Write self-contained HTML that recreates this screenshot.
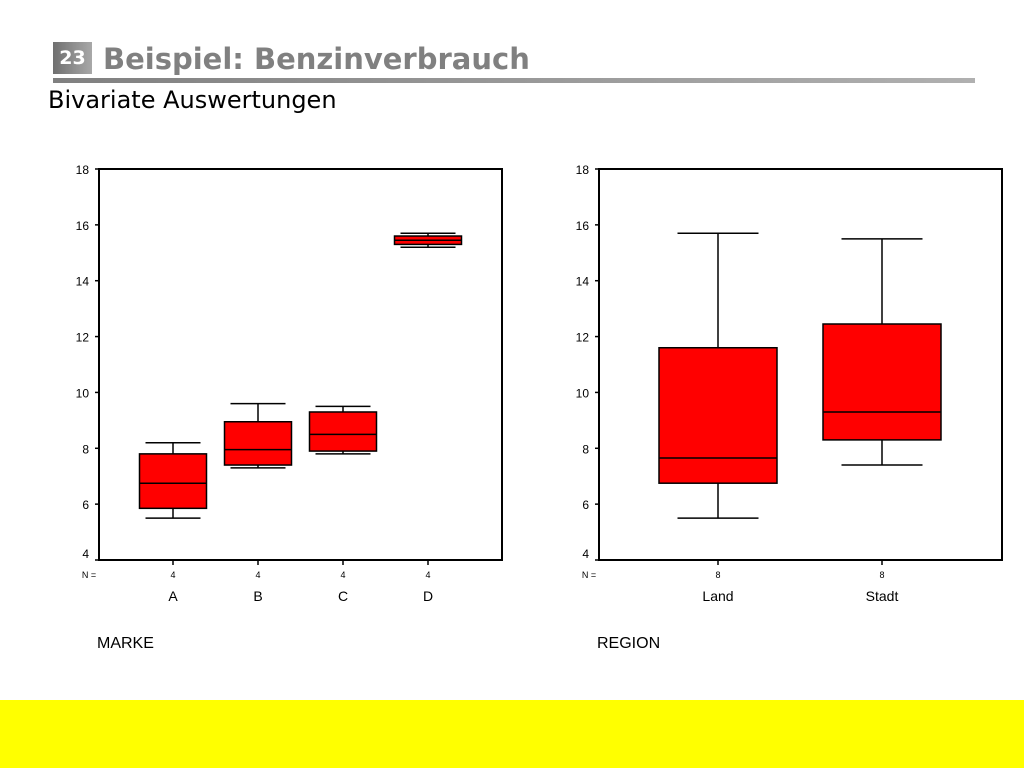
<!DOCTYPE html>
<html><head><meta charset="utf-8"><style>
body{margin:0;width:1024px;height:768px;background:#fff;position:relative;overflow:hidden;font-family:"DejaVu Sans","Liberation Sans",sans-serif}
.abs{position:absolute}
</style></head><body>
<div class="abs" style="left:53px;top:42px;width:39px;height:32px;background:linear-gradient(90deg,#707070,#a8a8a8);color:#fff;font-weight:bold;font-size:19px;line-height:32px;text-align:center">23</div>
<div class="abs" style="left:103px;top:40px;font-size:29px;font-weight:bold;color:#808080;line-height:38px">Beispiel: Benzinverbrauch</div>
<div class="abs" style="left:53px;top:78px;width:922px;height:5px;background:linear-gradient(90deg,#808080,#b0b0b0)"></div>
<div class="abs" style="left:48px;top:85px;font-size:24px;color:#000;line-height:30px">Bivariate Auswertungen</div>
<div class="abs" style="left:0;top:700px;width:1024px;height:68px;background:#ffff00"></div>
<svg class="abs" style="left:0;top:0" width="1024" height="700" id="chart"></svg>
<script>
const NS="http://www.w3.org/2000/svg";
const svg=document.getElementById('chart');
const ticks=[4,6,8,10,12,14,16,18];
const markeCats=["A","B","C","D"];
const markeN=[4,4,4,4];
const markeMin=[5.5,7.3,7.8,15.2];
const markeQ1=[5.85,7.4,7.9,15.3];
const markeMed=[6.75,7.95,8.5,15.45];
const markeQ3=[7.8,8.95,9.3,15.6];
const markeMax=[8.2,9.6,9.5,15.7];
const regionCats=["Land","Stadt"];
const regionN=[8,8];
const regionMin=[5.5,7.4];
const regionQ1=[6.75,8.3];
const regionMed=[7.65,9.3];
const regionQ3=[11.6,12.45];
const regionMax=[15.7,15.5];
function y(v){return 560-(v-4)*(391/14);}
function mk(tag,attrs,name,text){const e=document.createElementNS(NS,tag);for(const k in attrs)e.setAttribute(k,attrs[k]);


if(text!==undefined)e.textContent=text;svg.appendChild(e);return e;}
function chart(prefix,x0,x1,cats,ns,mn,q1,md,q3,mx,bw,cw,title,titleX){
  mk('rect',{x:x0,y:169,width:x1-x0,height:391,fill:'#fff',stroke:'#000','stroke-width':2},prefix+'-plot-frame');
  ticks.forEach(t=>{
    mk('line',{x1:x0-4,x2:x0,y1:y(t),y2:y(t),stroke:'#000','stroke-width':1.5},prefix+'-y-tick');
    mk('text',{x:x0-10,y:y(t)+(t==4?-2:5),'text-anchor':'end','font-size':12,'font-family':'Liberation Sans, sans-serif'},prefix+'-y-tick-label',t);
  });
  mk('text',{x:x0-10,y:578,'text-anchor':'middle','font-size':9,'font-family':'Liberation Sans, sans-serif'},prefix+'-n-label','N =');
  const step=(x1-x0)/cats.length;
  cats.forEach((c,i)=>{
    const cx=prefix=='marke'?x0+74+i*85:x0+119+i*164;
    mk('line',{x1:cx,x2:cx,y1:560,y2:565,stroke:'#000','stroke-width':1.5},prefix+'-x-tick');
    mk('line',{x1:cx,x2:cx,y1:y(mx[i]),y2:y(mn[i]),stroke:'#000','stroke-width':1.5},prefix+'-whisker-'+c);
    mk('line',{x1:cx-cw/2,x2:cx+cw/2,y1:y(mx[i]),y2:y(mx[i]),stroke:'#000','stroke-width':1.5},prefix+'-cap-max-'+c);
    mk('line',{x1:cx-cw/2,x2:cx+cw/2,y1:y(mn[i]),y2:y(mn[i]),stroke:'#000','stroke-width':1.5},prefix+'-cap-min-'+c);
    mk('rect',{x:cx-bw/2,y:y(q3[i]),width:bw,height:y(q1[i])-y(q3[i]),fill:'#ff0000',stroke:'#000','stroke-width':1.5},prefix+'-box-'+c);
    mk('line',{x1:cx-bw/2,x2:cx+bw/2,y1:y(md[i]),y2:y(md[i]),stroke:'#000','stroke-width':1.5},prefix+'-median-'+c);
    mk('text',{x:cx,y:578,'text-anchor':'middle','font-size':9,'font-family':'Liberation Sans, sans-serif'},prefix+'-n-'+c,ns[i]);
    mk('text',{x:cx,y:601,'text-anchor':'middle','font-size':14,'font-family':'Liberation Sans, sans-serif'},prefix+'-category-'+c,c);
  });
  mk('text',{x:titleX,y:648,'font-size':16,'font-family':'Liberation Sans, sans-serif'},prefix+'-axis-title',title);
}
chart('marke',99,502,markeCats,markeN,markeMin,markeQ1,markeMed,markeQ3,markeMax,67,55,'MARKE',97);
chart('region',599,1002,regionCats,regionN,regionMin,regionQ1,regionMed,regionQ3,regionMax,118,81,'REGION',597);
</script>
</body></html>
